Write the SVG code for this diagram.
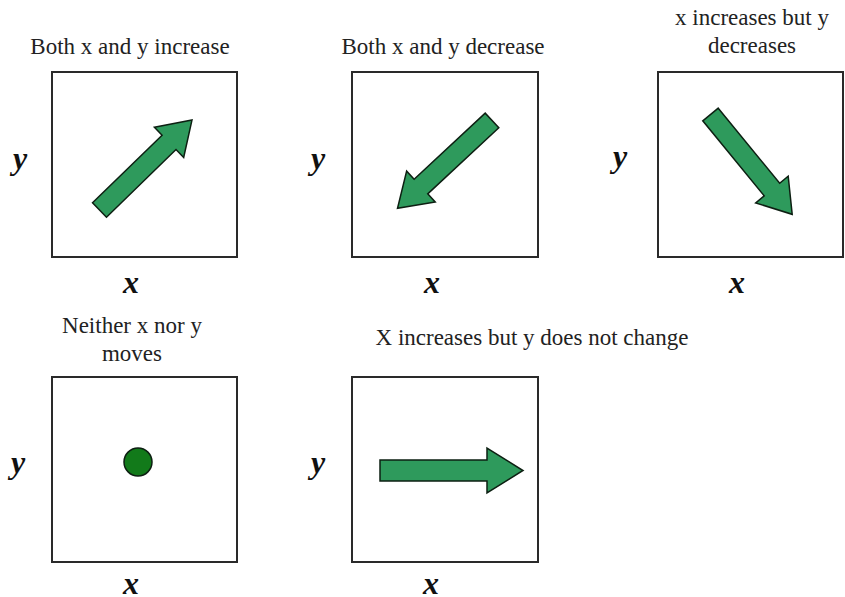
<svg xmlns="http://www.w3.org/2000/svg" width="845" height="597" viewBox="0 0 845 597">
<defs>
<style>
.box{fill:#fff;stroke:#2a2a2a;stroke-width:2}
.arrow{fill:#2e9a5c;stroke:#0d1f12;stroke-width:1.5;stroke-linejoin:miter}
.dot{fill:#127a1a;stroke:#0d1f12;stroke-width:1.5}
.title{font-family:'Liberation Serif','Times New Roman','DejaVu Serif',serif;font-size:23px;fill:#222;text-anchor:middle}
.axis{font-family:'Liberation Serif','Times New Roman','DejaVu Serif',serif;font-size:32px;font-weight:bold;font-style:italic;fill:#111;text-anchor:middle}
</style>
<path id="arr" d="M0,-10 L97,-10 L97,-21 L129,0 L97,21 L97,10 L0,10 Z"/>
</defs>
<rect width="845" height="597" fill="#fff"/>
<g id="panel1">
<text class="title" x="130" y="54">Both x and y increase</text>
<rect class="box" x="52" y="72" width="185" height="185"/>
<use href="#arr" class="arrow" transform="translate(99.5,210) rotate(-44.2)"/>
<text class="axis" x="20" y="169">y</text>
<text class="axis" x="131" y="293">x</text>
</g>
<g id="panel2">
<text class="title" x="443" y="54">Both x and y decrease</text>
<rect class="box" x="352" y="72" width="186" height="185"/>
<use href="#arr" class="arrow" transform="translate(492,120.5) rotate(137.1)"/>
<text class="axis" x="318" y="169">y</text>
<text class="axis" x="432" y="293">x</text>
</g>
<g id="panel3">
<text class="title" x="752" y="25">x increases but y</text>
<text class="title" x="752" y="53">decreases</text>
<rect class="box" x="658" y="72" width="185" height="185"/>
<use href="#arr" class="arrow" transform="translate(710.5,114.5) rotate(50.7)"/>
<text class="axis" x="620" y="167">y</text>
<text class="axis" x="737" y="293">x</text>
</g>
<g id="panel4">
<text class="title" x="132" y="333">Neither x nor y</text>
<text class="title" x="132" y="361">moves</text>
<rect class="box" x="52" y="377" width="185" height="185"/>
<circle class="dot" cx="138" cy="462" r="14"/>
<text class="axis" x="18" y="473">y</text>
<text class="axis" x="131" y="594">x</text>
</g>
<g id="panel5">
<text class="title" x="532" y="345">X increases but y does not change</text>
<rect class="box" x="352" y="377" width="186" height="185"/>
<path class="arrow" d="M380,460 L487,460 L487,448 L523,470.5 L487,493 L487,481 L380,481 Z"/>
<text class="axis" x="318" y="473">y</text>
<text class="axis" x="431" y="594">x</text>
</g>
<g id="connectors"></g>
</svg>
